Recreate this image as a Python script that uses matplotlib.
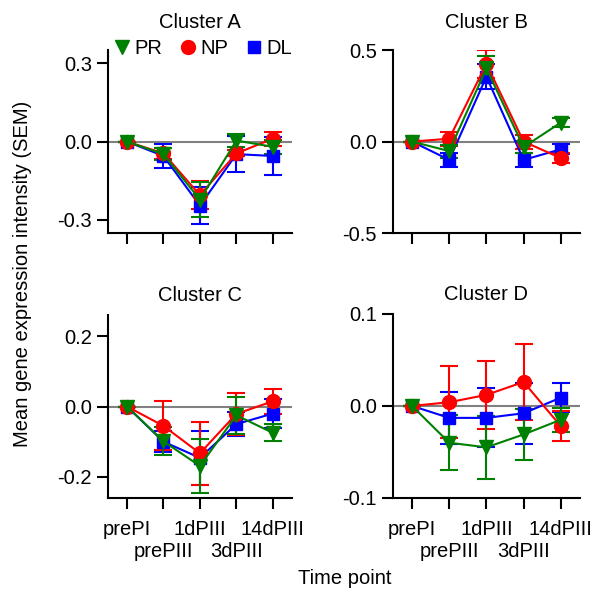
import matplotlib
matplotlib.use("Agg")
from matplotlib import pyplot as plt
from matplotlib.ticker import FuncFormatter

plt.rcParams['font.family'] = ['Liberation Sans', 'DejaVu Sans']

timepoints = ['prePI', 'prePIII', '1dPIII', '3dPIII', '14dPIII']

# mean values and SEM per cluster
clusterA = {
    'PR': [0.0, -0.048, -0.222, 0.004, -0.020],
    'NP': [0.0, -0.045, -0.205, -0.045, 0.011],
    'DL': [0.0, -0.055, -0.245, -0.048, -0.055],
}
clusterA_sem = {
    'PR': [0.0, 0.022, 0.066, 0.024, 0.026],
    'NP': [0.0, 0.022, 0.053, 0.012, 0.027],
    'DL': [0.0, 0.045, 0.072, 0.068, 0.072],
}
clusterB = {
    'PR': [0.0, -0.052, 0.400, -0.030, 0.104],
    'NP': [0.0, 0.016, 0.425, 0.000, -0.090],
    'DL': [0.0, -0.100, 0.355, -0.100, -0.042],
}
clusterB_sem = {
    'PR': [0.0, 0.035, 0.070, 0.035, 0.025],
    'NP': [0.0, 0.038, 0.075, 0.038, 0.025],
    'DL': [0.0, 0.040, 0.068, 0.038, 0.028],
}
clusterC = {
    'PR': [0.0, -0.099, -0.169, -0.025, -0.075],
    'NP': [0.0, -0.055, -0.133, -0.021, 0.015],
    'DL': [0.0, -0.100, -0.146, -0.050, -0.020],
}
clusterC_sem = {
    'PR': [0.0, 0.040, 0.077, 0.052, 0.024],
    'NP': [0.0, 0.070, 0.089, 0.060, 0.036],
    'DL': [0.0, 0.030, 0.076, 0.033, 0.042],
}
clusterD = {
    'PR': [0.0, -0.040, -0.045, -0.031, -0.015],
    'NP': [0.0, 0.004, 0.012, 0.026, -0.022],
    'DL': [0.0, -0.013, -0.013, -0.008, 0.009],
}
clusterD_sem = {
    'PR': [0.0, 0.030, 0.034, 0.028, 0.013],
    'NP': [0.0, 0.039, 0.037, 0.041, 0.016],
    'DL': [0.0, 0.028, 0.032, 0.033, 0.016],
}

colors = {'PR': '#008000', 'NP': '#ff0000', 'DL': '#0000ff'}
markers = {'PR': 'v', 'NP': 'o', 'DL': 's'}
msizes = {'PR': 10, 'NP': 10, 'DL': 8}

panels = [
    ("Cluster A", clusterA, clusterA_sem, 0.35, [0.3, 0.0, -0.3], [0.1815, 0.605, 0.309, 0.310], 16),
    ("Cluster B", clusterB, clusterB_sem, 0.5, [0.5, 0.0, -0.5], [0.660, 0.605, 0.315, 0.310], 16),
    ("Cluster C", clusterC, clusterC_sem, 0.26, [0.2, 0.0, -0.2], [0.1815, 0.156, 0.309, 0.310], 10),
    ("Cluster D", clusterD, clusterD_sem, 0.1, [0.1, 0.0, -0.1], [0.660, 0.156, 0.315, 0.312], 10),
]

fig = plt.figure(figsize=(5.95, 5.9), dpi=100)
x = list(range(len(timepoints)))
fs = 14.5

for i, (title, data, sem, lim, yticks, rect, pad) in enumerate(panels):
    ax = fig.add_axes(rect)
    ax.axhline(0, color='gray', linewidth=1.5, zorder=1)
    for name in ['DL', 'NP', 'PR']:
        ax.errorbar(x, data[name], yerr=sem[name], color=colors[name], marker=markers[name],
                    markersize=msizes[name], linewidth=1.5, capsize=6.5, capthick=1.5,
                    elinewidth=1.5, label=name, zorder=3)
    ax.set_xlim(-0.52, 4.52)
    ax.set_ylim(-lim, lim)
    ax.set_yticks(yticks)
    ax.yaxis.set_major_formatter(FuncFormatter(lambda v, p: "%.1f" % v if abs(v) > 1e-9 else "0.0"))
    # staggered labels: even time points on major ticks, odd ones on minor ticks lower down
    ax.set_xticks(x[0::2])
    ax.set_xticks(x[1::2], minor=True)
    if i >= 2:
        ax.set_xticklabels(timepoints[0::2])
        ax.set_xticklabels(timepoints[1::2], minor=True)
    else:
        ax.set_xticklabels([])
        ax.set_xticklabels([], minor=True)
    ax.tick_params(axis='both', which='both', labelsize=fs, length=8, width=1.5, direction='out')
    ax.tick_params(axis='x', which='major', pad=8)
    ax.tick_params(axis='x', which='minor', pad=24)
    ax.tick_params(axis='y', which='minor', left=False)
    for s in ['top', 'right']:
        ax.spines[s].set_visible(False)
    for s in ['left', 'bottom']:
        ax.spines[s].set_linewidth(1.5)
    ax.set_title(title, fontsize=fs, pad=pad)
    if i == 0:
        order = ['PR', 'NP', 'DL']
        handles = [plt.Line2D([], [], linestyle='none', marker=markers[n], color=colors[n],
                              markersize=msizes[n]) for n in order]
        ax.legend(handles, order, ncol=3, frameon=False, fontsize=fs,
                  loc='center', bbox_to_anchor=(0.51, 1.01), handletextpad=0.1,
                  columnspacing=0.8, handlelength=1.0, borderaxespad=0)

fig.text(0.037, 0.535, "Mean gene expression intensity (SEM)", rotation=90,
         fontsize=fs, ha='center', va='center')
fig.text(0.58, 0.02, "Time point", fontsize=fs, ha='center', va='center')

plt.savefig("out.png", dpi=100)
